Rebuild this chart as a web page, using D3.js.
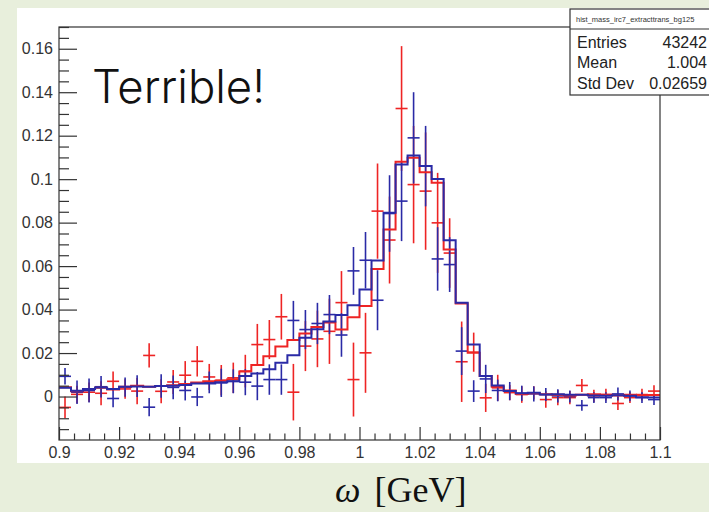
<!DOCTYPE html>
<html>
<head>
<meta charset="utf-8">
<script src="https://cdn.jsdelivr.net/npm/d3@7"></script>
<style>
  html, body { margin: 0; padding: 0; background: #e8efdc; }
  svg { display: block; }
</style>
</head>
<body>
<svg id="chart" width="709" height="512"></svg>
<script>
// Bin centres of the ω mass histogram (50 bins of 4 MeV, 0.9–1.1 GeV)
const binCenters = [
  0.902, 0.906, 0.910, 0.914, 0.918, 0.922, 0.926, 0.930, 0.934, 0.938,
  0.942, 0.946, 0.950, 0.954, 0.958, 0.962, 0.966, 0.970, 0.974, 0.978,
  0.982, 0.986, 0.990, 0.994, 0.998, 1.002, 1.006, 1.010, 1.014, 1.018,
  1.022, 1.026, 1.030, 1.034, 1.038, 1.042, 1.046, 1.050, 1.054, 1.058,
  1.062, 1.066, 1.070, 1.074, 1.078, 1.082, 1.086, 1.090, 1.094, 1.098
];
const binWidth = 0.004;

// Red data points and their errors
const redValues = [
  -0.0050, 0.0010, 0.0020, 0.0015, 0.0070, 0.0035, 0.0025, 0.0189, 0.0024, 0.0067,
   0.0098, 0.0162, 0.0090, 0.0075, 0.0086, 0.0117, 0.0239, 0.0262, 0.0367, 0.0020,
   0.0232, 0.0265, 0.0300, 0.0432, 0.0078, 0.0201, 0.0853, 0.0720, 0.1325, 0.0975,
   0.0945, 0.0799, 0.0660, 0.0160, 0.0204,-0.0006, 0.0040, 0.0018, 0.0009, 0.0017,
  -0.0014,-0.0005,-0.0005, 0.0051, 0.0003, 0.0009,-0.0032,-0.0005, 0.0009, 0.0025
];
const redErrors = [
  0.0050, 0.0040, 0.0045, 0.0055, 0.0045, 0.0045, 0.0060, 0.0056, 0.0055, 0.0055,
  0.0065, 0.0070, 0.0060, 0.0070, 0.0070, 0.0075, 0.0095, 0.0090, 0.0105, 0.0130,
  0.0115, 0.0130, 0.0150, 0.0145, 0.0170, 0.0184, 0.0219, 0.0200, 0.0287, 0.0270,
  0.0270, 0.0230, 0.0160, 0.0185, 0.0090, 0.0065, 0.0060, 0.0035, 0.0038, 0.0030,
  0.0038, 0.0035, 0.0030, 0.0030, 0.0028, 0.0027, 0.0030, 0.0025, 0.0027, 0.0027
];

// Blue data points and their errors
const blueValues = [
   0.0093, 0.0020, 0.0028, 0.0045,-0.0009, 0.0043, 0.0048,-0.0049, 0.0048, 0.0042,
   0.0028,-0.0002, 0.0065, 0.0063, 0.0070, 0.0066, 0.0048, 0.0078, 0.0078, 0.0350,
   0.0308, 0.0336, 0.0377, 0.0283, 0.0578, 0.0627, 0.0443, 0.0842, 0.0899, 0.1190,
   0.1060, 0.0633, 0.0607, 0.0209, 0.0025, 0.0081, 0.0028, 0.0025, 0.0015, 0.0012,
   0.0009, 0.0003, 0.0000,-0.0041,-0.0005,-0.0005, 0.0012, 0.0003,-0.0005,-0.0014
];
const blueErrors = [
  0.0038, 0.0054, 0.0055, 0.0050, 0.0040, 0.0044, 0.0050, 0.0042, 0.0054, 0.0055,
  0.0046, 0.0042, 0.0050, 0.0065, 0.0055, 0.0060, 0.0065, 0.0070, 0.0070, 0.0090,
  0.0090, 0.0095, 0.0090, 0.0100, 0.0110, 0.0130, 0.0138, 0.0176, 0.0184, 0.0210,
  0.0185, 0.0146, 0.0126, 0.0110, 0.0050, 0.0065, 0.0050, 0.0042, 0.0035, 0.0035,
  0.0030, 0.0030, 0.0028, 0.0025, 0.0025, 0.0025, 0.0030, 0.0025, 0.0025, 0.0025
];

// Red and blue template histograms (bin contents)
const redHist = [
  0.0043, 0.0024, 0.0035, 0.0040, 0.0032, 0.0045, 0.0050, 0.0045, 0.0048, 0.0052,
  0.0058, 0.0065, 0.0070, 0.0073, 0.0080, 0.0115, 0.0145, 0.0185, 0.0230, 0.0260,
  0.0290, 0.0320, 0.0340, 0.0308, 0.0365, 0.0416, 0.0587, 0.0768, 0.1080, 0.1098,
  0.1032, 0.0983, 0.0676, 0.0428, 0.0201, 0.0094, 0.0045, 0.0028, 0.0012, 0.0015,
  0.0010, 0.0008, 0.0005, 0.0008, 0.0010, 0.0008, 0.0005, 0.0008, 0.0006, 0.0007
];
const blueHist = [
  0.0040, 0.0027, 0.0035, 0.0042, 0.0035, 0.0045, 0.0046, 0.0045, 0.0048, 0.0050,
  0.0053, 0.0060, 0.0060, 0.0066, 0.0070, 0.0094, 0.0106, 0.0125, 0.0155, 0.0190,
  0.0270, 0.0310, 0.0345, 0.0375, 0.0420, 0.0492, 0.0626, 0.0845, 0.1067, 0.1109,
  0.1060, 0.1001, 0.0719, 0.0431, 0.0239, 0.0094, 0.0051, 0.0025, 0.0015, 0.0017,
  0.0009, 0.0010, 0.0008, 0.0008, 0.0005, 0.0003, 0.0006, 0.0004,-0.0003,-0.0005
];

// Axis ticks and labels
const xTicks = [0.9, 0.92, 0.94, 0.96, 0.98, 1.0, 1.02, 1.04, 1.06, 1.08, 1.1];
const xTickLabels = ["0.9", "0.92", "0.94", "0.96", "0.98", "1", "1.02", "1.04", "1.06", "1.08", "1.1"];
const yTicks = [0, 0.02, 0.04, 0.06, 0.08, 0.1, 0.12, 0.14, 0.16];
const yTickLabels = ["0", "0.02", "0.04", "0.06", "0.08", "0.1", "0.12", "0.14", "0.16"];

// Statistics box contents
const statsTitle = "hist_mass_irc7_extracttrans_bg125";
const statsNames = ["Entries", "Mean", "Std Dev"];
const statsValues = ["43242", "1.004", "0.02659"];

const redColor = "#ee2424";
const blueColor = "#2a2aa6";
const frameColor = "#333";
const sans = '"Liberation Sans", Arial, Helvetica, sans-serif';

const svg = d3.select("#chart");

// Light background and white canvas
svg.append("rect").attr("x", 0).attr("y", 0).attr("width", 709).attr("height", 512).attr("fill", "#e8efdc");
svg.append("rect").attr("x", 17).attr("y", 8).attr("width", 692).attr("height", 455).attr("fill", "#ffffff");

const frame = { left: 59, right: 660, top: 27, bottom: 440 };
const x = d3.scaleLinear().domain([0.9, 1.1]).range([frame.left, frame.right]);
const y = d3.scaleLinear().domain([-0.02, 0.17]).range([frame.bottom, frame.top]);

const plot = svg.append("g");

// Error-bar crosses: full bin width horizontally, ±error vertically
function drawPoints(values, errors, color) {
  const g = plot.append("g").attr("stroke", color).attr("stroke-width", 1.6).attr("fill", "none");
  binCenters.forEach((c, i) => {
    const v = values[i], e = errors[i];
    g.append("line")
      .attr("x1", x(c - binWidth / 2)).attr("x2", x(c + binWidth / 2))
      .attr("y1", y(v)).attr("y2", y(v));
    g.append("line")
      .attr("x1", x(c)).attr("x2", x(c))
      .attr("y1", y(Math.min(v + e, 0.17))).attr("y2", y(Math.max(v - e, -0.02)));
  });
}

// Step outline of a histogram
function drawHist(contents, color) {
  const pts = binCenters.map((c, i) => [c - binWidth / 2, contents[i]]);
  pts.push([binCenters[binCenters.length - 1] + binWidth / 2, contents[contents.length - 1]]);
  const line = d3.line().x(d => x(d[0])).y(d => y(d[1])).curve(d3.curveStepAfter);
  plot.append("path").attr("d", line(pts))
    .attr("fill", "none").attr("stroke", color).attr("stroke-width", 2);
}

drawPoints(redValues, redErrors, redColor);
drawPoints(blueValues, blueErrors, blueColor);
drawHist(redHist, redColor);
drawHist(blueHist, blueColor);

// Frame
svg.append("rect")
  .attr("x", frame.left).attr("y", frame.top)
  .attr("width", frame.right - frame.left).attr("height", frame.bottom - frame.top)
  .attr("fill", "none").attr("stroke", frameColor).attr("stroke-width", 1.2);

// Y axis: major and minor ticks pointing into the frame
const yMinor = d3.range(-0.015, 0.1701, 0.005).filter(v => !yTicks.some(t => Math.abs(t - v) < 1e-9));
const yAxisMajor = d3.axisLeft(y).tickValues(yTicks).tickSize(-18).tickPadding(6)
  .tickFormat((d, i) => yTickLabels[i]);
const gy = svg.append("g").attr("transform", `translate(${frame.left},0)`).call(yAxisMajor);
gy.select(".domain").remove();
gy.selectAll("line").attr("stroke", frameColor).attr("stroke-width", 1.2);
gy.selectAll("text").attr("font-size", 16).attr("fill", "#333").attr("font-family", sans);
const gyMinor = svg.append("g").attr("transform", `translate(${frame.left},0)`)
  .call(d3.axisLeft(y).tickValues(yMinor).tickSize(-10).tickFormat(""));
gyMinor.select(".domain").remove();
gyMinor.selectAll("line").attr("stroke", frameColor).attr("stroke-width", 1.2);

// X axis
const xMinor = d3.range(0.905, 1.1, 0.005).filter(v => !xTicks.some(t => Math.abs(t - v) < 1e-9));
const xAxisMajor = d3.axisBottom(x).tickValues(xTicks).tickSize(-13).tickPadding(7)
  .tickFormat((d, i) => xTickLabels[i]);
const gx = svg.append("g").attr("transform", `translate(0,${frame.bottom})`).call(xAxisMajor);
gx.select(".domain").remove();
gx.selectAll("line").attr("stroke", frameColor).attr("stroke-width", 1.2);
gx.selectAll("text").attr("font-size", 16).attr("fill", "#333").attr("font-family", sans)
  .attr("dy", "0.71em");
const gxMinor = svg.append("g").attr("transform", `translate(0,${frame.bottom})`)
  .call(d3.axisBottom(x).tickValues(xMinor).tickSize(-6.5).tickFormat(""));
gxMinor.select(".domain").remove();
gxMinor.selectAll("line").attr("stroke", frameColor).attr("stroke-width", 1.2);

// Annotation in a light sans face
svg.append("text").attr("x", 92).attr("y", 103)
  .attr("font-family", 'Inter, "Open Sans", "Liberation Sans", sans-serif')
  .attr("font-weight", 300).attr("font-size", 46).attr("fill", "#111")
  .attr("textLength", 173).attr("lengthAdjust", "spacingAndGlyphs")
  .text("Terrible!");

// Statistics box
const stats = svg.append("g");
stats.append("rect").attr("x", 570).attr("y", 9).attr("width", 160).attr("height", 86)
  .attr("fill", "#fff").attr("stroke", frameColor).attr("stroke-width", 1.2);
stats.append("line").attr("x1", 570).attr("x2", 709).attr("y1", 29).attr("y2", 29)
  .attr("stroke", frameColor).attr("stroke-width", 1.2);
stats.append("text").attr("x", 576).attr("y", 22)
  .attr("font-family", sans).attr("font-size", 7.5).attr("fill", "#333").text(statsTitle);
statsNames.forEach((n, i) => {
  const by = 47.5 + i * 20.5;
  stats.append("text").attr("x", 577).attr("y", by)
    .attr("font-family", sans).attr("font-size", 16).attr("fill", "#222").text(n);
  stats.append("text").attr("x", 707).attr("y", by).attr("text-anchor", "end")
    .attr("font-family", sans).attr("font-size", 16).attr("fill", "#222").text(statsValues[i]);
});

// Axis title
const title = svg.append("text").attr("x", 335).attr("y", 502)
  .attr("font-family", '"Liberation Serif", "Times New Roman", serif').attr("font-size", 36).attr("fill", "#111");
title.append("tspan").attr("font-style", "italic").text("ω");
title.append("tspan").attr("dx", 14).text("[GeV]");
</script>
</body>
</html>
